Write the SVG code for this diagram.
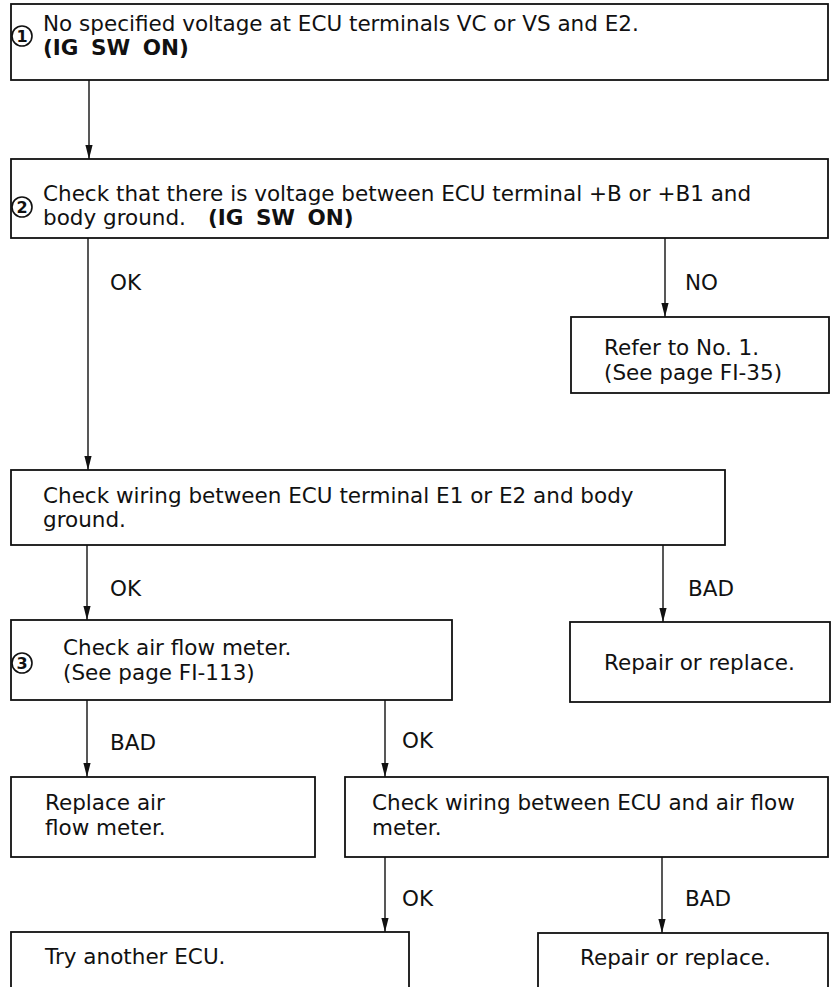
<svg xmlns="http://www.w3.org/2000/svg" width="838" height="987" viewBox="0 0 838 987">
  <style>
    .box { fill: #fff; stroke: #111; stroke-width: 1.8; }
    .t { font-family: "DejaVu Sans", "Liberation Sans", sans-serif; font-size: 21.5px; fill: #111; }
    .b { font-weight: bold; word-spacing: 5px; }
    .num { font-family: "DejaVu Sans", "Liberation Sans", sans-serif; font-size: 16px; font-weight: bold; fill: #111; text-anchor: middle; }
    .ring { fill: none; stroke: #111; stroke-width: 1.6; }
    .wire { fill: none; stroke: #111; stroke-width: 1.4; marker-end: url(#arrow); }
  </style>
  <defs>
    <marker id="arrow" viewBox="0 -4 14 8" refX="14" refY="0" markerWidth="14" markerHeight="8" markerUnits="userSpaceOnUse" orient="auto">
      <path d="M0,-3.6 L14,0 L0,3.6 Z" fill="#111"/>
    </marker>
  </defs>
  <rect width="838" height="987" fill="#fff"/>

  <!-- connectors -->
  <g id="connectors">
    <path class="wire" d="M89,80 V159"/>
    <path class="wire" d="M88,238 V470"/>
    <path class="wire" d="M665,238 V317"/>
    <path class="wire" d="M87,545 V620"/>
    <path class="wire" d="M663,545 V622"/>
    <path class="wire" d="M87,700 V777"/>
    <path class="wire" d="M385,700 V777"/>
    <path class="wire" d="M385,857 V932"/>
    <path class="wire" d="M662,857 V933"/>
    <text class="t" x="110" y="290">OK</text>
    <text class="t" x="685" y="290">NO</text>
    <text class="t" x="110" y="596">OK</text>
    <text class="t" x="688" y="596">BAD</text>
    <text class="t" x="110" y="750">BAD</text>
    <text class="t" x="402" y="748">OK</text>
    <text class="t" x="402" y="906">OK</text>
    <text class="t" x="685" y="906">BAD</text>
  </g>

  <!-- step 1 -->
  <g id="step1">
    <rect class="box" x="11" y="4" width="817" height="76"/>
    <circle class="ring" cx="22" cy="36" r="10"/>
    <text class="num" x="22" y="42">1</text>
    <text class="t" x="43" y="31">No specified voltage at ECU terminals VC or VS and E2.</text>
    <text class="t b" x="43" y="55">(IG SW ON)</text>
  </g>

  <!-- step 2 -->
  <g id="step2">
    <rect class="box" x="11" y="159" width="817" height="79"/>
    <circle class="ring" cx="22" cy="207" r="10"/>
    <text class="num" x="22" y="213">2</text>
    <text class="t" x="43" y="201">Check that there is voltage between ECU terminal +B or +B1 and</text>
    <text class="t" x="43" y="225">body ground.<tspan class="b" dx="22">(IG SW ON)</tspan></text>
  </g>

  <!-- refer -->
  <g id="refer">
    <rect class="box" x="571" y="317" width="258" height="76"/>
    <text class="t" x="604" y="355">Refer to No. 1.</text>
    <text class="t" x="604" y="380">(See page FI-35)</text>
  </g>

  <!-- ground wiring check -->
  <g id="groundCheck">
    <rect class="box" x="11" y="470" width="714" height="75"/>
    <text class="t" x="43" y="503">Check wiring between ECU terminal E1 or E2 and body</text>
    <text class="t" x="43" y="527">ground.</text>
  </g>

  <!-- repair 1 -->
  <g id="repair1">
    <rect class="box" x="570" y="622" width="260" height="80"/>
    <text class="t" x="604" y="670">Repair or replace.</text>
  </g>

  <!-- step 3 -->
  <g id="step3">
    <rect class="box" x="11" y="620" width="441" height="80"/>
    <circle class="ring" cx="22" cy="663" r="10"/>
    <text class="num" x="22" y="669">3</text>
    <text class="t" x="63" y="655">Check air flow meter.</text>
    <text class="t" x="63" y="680">(See page FI-113)</text>
  </g>

  <!-- replace meter -->
  <g id="replaceMeter">
    <rect class="box" x="11" y="777" width="304" height="80"/>
    <text class="t" x="45" y="810">Replace air</text>
    <text class="t" x="45" y="835">flow meter.</text>
  </g>

  <!-- meter wiring check -->
  <g id="meterWiring">
    <rect class="box" x="345" y="777" width="483" height="80"/>
    <text class="t" x="372" y="810">Check wiring between ECU and air flow</text>
    <text class="t" x="372" y="835">meter.</text>
  </g>

  <!-- try another ECU -->
  <g id="tryEcu">
    <rect class="box" x="11" y="932" width="398" height="80"/>
    <text class="t" x="45" y="964">Try another ECU.</text>
  </g>

  <!-- repair 2 -->
  <g id="repair2">
    <rect class="box" x="538" y="933" width="290" height="80"/>
    <text class="t" x="580" y="965">Repair or replace.</text>
  </g>
</svg>
